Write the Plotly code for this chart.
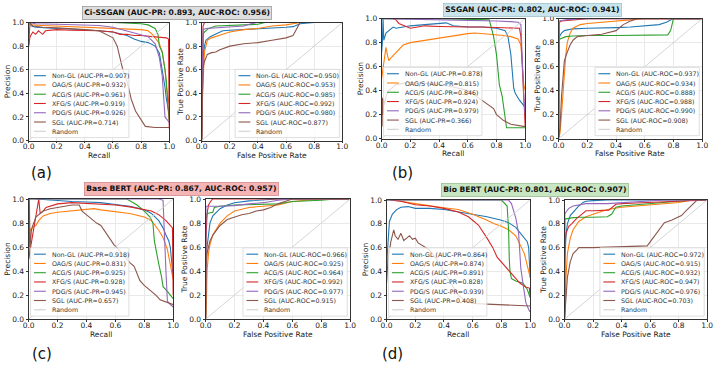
import plotly.graph_objects as go

W, H = 720, 365
FONT = "DejaVu Sans"

SERIES = ["Non-GL", "OAG/S", "ACG/S", "XFG/S", "PDG/S", "SGL"]
COLORS = ["#1f77b4", "#ff7f0e", "#2ca02c", "#d62728", "#9467bd", "#8c564b"]
RANDOM_LABEL = "Random"
MODELS = ["Ci-SSGAN", "SSGAN", "Base BERT", "Bio BERT"]
MODEL_AUC_PR = [0.893, 0.802, 0.867, 0.801]
MODEL_AUC_ROC = [0.956, 0.941, 0.957, 0.907]
PANEL_TAGS = ["(a)", "(b)", "(c)", "(d)"]

A_AUC_PR = [0.907, 0.932, 0.961, 0.919, 0.926, 0.714]
A_AUC_ROC = [0.950, 0.953, 0.985, 0.992, 0.980, 0.877]
B_AUC_PR = [0.878, 0.815, 0.846, 0.924, 0.979, 0.366]
B_AUC_ROC = [0.937, 0.934, 0.888, 0.988, 0.990, 0.908]
C_AUC_PR = [0.918, 0.831, 0.925, 0.928, 0.945, 0.657]
C_AUC_ROC = [0.966, 0.925, 0.964, 0.992, 0.977, 0.915]
D_AUC_PR = [0.864, 0.874, 0.891, 0.828, 0.939, 0.408]
D_AUC_ROC = [0.972, 0.915, 0.932, 0.947, 0.976, 0.703]

TICKS = [0.0, 0.2, 0.4, 0.6, 0.8, 1.0]
TICK_LABELS = ["0.0", "0.2", "0.4", "0.6", "0.8", "1.0"]
RANDOM = [(0.0, 0.0), (1.0, 1.0)]

# ---------- (a) Ci-SSGAN : precision-recall (recall, precision) ----------
A_PR_NONGL = [(0, 1.0), (0.02, 0.97), (0.05, 0.96), (0.1, 0.955), (0.2, 0.95), (0.3, 0.945), (0.4, 0.94), (0.5, 0.93), (0.6, 0.92), (0.7, 0.89), (0.75, 0.86), (0.8, 0.84), (0.85, 0.83), (0.9, 0.8), (0.93, 0.74), (0.95, 0.6), (0.96, 0.5), (0.97, 0.45), (0.98, 0.35), (0.99, 0.28), (1.0, 0.22)]
A_PR_OAG = [(0, 1.0), (0.02, 0.98), (0.1, 0.975), (0.2, 0.97), (0.3, 0.97), (0.4, 0.965), (0.5, 0.96), (0.6, 0.955), (0.7, 0.95), (0.8, 0.94), (0.85, 0.93), (0.88, 0.9), (0.9, 0.87), (0.93, 0.82), (0.95, 0.75), (0.97, 0.6), (0.98, 0.45), (0.99, 0.38), (1.0, 0.3)]
A_PR_ACG = [(0, 1.0), (0.6, 1.0), (0.8, 0.99), (0.85, 0.98), (0.9, 0.95), (0.92, 0.9), (0.93, 0.8), (0.95, 0.75), (0.97, 0.6), (0.98, 0.5), (0.99, 0.3), (1.0, 0.16)]
A_PR_XFG = [(0, 0.8), (0.01, 0.88), (0.03, 0.92), (0.05, 0.9), (0.07, 0.93), (0.1, 0.9), (0.12, 0.93), (0.2, 0.94), (0.3, 0.935), (0.4, 0.935), (0.5, 0.93), (0.6, 0.92), (0.65, 0.9), (0.7, 0.9), (0.75, 0.89), (0.8, 0.89), (0.85, 0.885), (0.9, 0.88), (0.95, 0.875), (0.98, 0.87), (0.995, 0.86), (1.0, 0.1)]
A_PR_PDG = [(0, 1.0), (0.05, 0.99), (0.2, 0.985), (0.4, 0.98), (0.5, 0.975), (0.6, 0.96), (0.7, 0.93), (0.8, 0.9), (0.85, 0.88), (0.9, 0.82), (0.93, 0.7), (0.95, 0.55), (0.96, 0.35), (0.97, 0.2), (0.99, 0.17), (1.0, 0.15)]
A_PR_SGL = [(0, 0.8), (0.01, 1.0), (0.03, 0.97), (0.1, 0.96), (0.2, 0.955), (0.3, 0.95), (0.4, 0.94), (0.5, 0.93), (0.55, 0.9), (0.6, 0.87), (0.63, 0.8), (0.65, 0.7), (0.67, 0.6), (0.7, 0.5), (0.73, 0.35), (0.76, 0.25), (0.8, 0.17), (0.83, 0.12), (0.9, 0.11), (0.95, 0.11), (1.0, 0.11)]

# ---------- (a) Ci-SSGAN : ROC (fpr, tpr) ----------
A_ROC_NONGL = [(0, 0), (0.005, 0.5), (0.01, 0.7), (0.02, 0.8), (0.03, 0.85), (0.06, 0.88), (0.1, 0.9), (0.15, 0.93), (0.2, 0.935), (0.3, 0.94), (0.4, 0.95), (0.5, 0.955), (0.6, 0.96), (0.65, 0.965), (0.7, 0.99), (0.8, 1.0), (1, 1)]
A_ROC_OAG = [(0, 0), (0.005, 0.4), (0.02, 0.75), (0.04, 0.85), (0.07, 0.87), (0.1, 0.88), (0.15, 0.9), (0.2, 0.92), (0.3, 0.94), (0.4, 0.95), (0.5, 0.97), (0.6, 0.98), (0.7, 1.0), (1, 1)]
A_ROC_ACG = [(0, 0), (0.005, 0.8), (0.01, 0.9), (0.02, 0.92), (0.05, 0.95), (0.1, 0.97), (0.2, 0.975), (0.3, 0.98), (0.4, 0.985), (0.45, 1.0), (1, 1)]
A_ROC_XFG = [(0, 0), (0.005, 0.9), (0.01, 0.97), (0.02, 1.0), (1, 1)]
A_ROC_PDG = [(0, 0), (0.005, 0.9), (0.01, 0.94), (0.03, 0.95), (0.1, 0.955), (0.2, 0.96), (0.3, 0.97), (0.35, 0.99), (0.4, 1.0), (1, 1)]
A_ROC_SGL = [(0, 0), (0.005, 0.45), (0.01, 0.62), (0.02, 0.67), (0.04, 0.73), (0.07, 0.745), (0.1, 0.75), (0.13, 0.77), (0.2, 0.8), (0.3, 0.82), (0.4, 0.83), (0.5, 0.85), (0.55, 0.86), (0.6, 0.87), (0.65, 0.89), (0.7, 1.0), (1, 1)]

# ---------- (b) SSGAN : precision-recall ----------
B_PR_NONGL = [(0, 0.72), (0.005, 0.8), (0.01, 1.0), (0.015, 0.82), (0.03, 0.88), (0.05, 0.9), (0.08, 0.93), (0.1, 0.92), (0.2, 0.94), (0.3, 0.95), (0.4, 0.96), (0.45, 0.965), (0.5, 0.94), (0.6, 0.93), (0.7, 0.93), (0.8, 0.92), (0.86, 0.9), (0.88, 0.85), (0.9, 0.7), (0.91, 0.55), (0.92, 0.42), (0.93, 0.38), (0.96, 0.32), (1.0, 0.26)]
B_PR_OAG = [(0, 0.5), (0.01, 0.6), (0.02, 0.7), (0.03, 0.76), (0.04, 0.7), (0.05, 0.65), (0.07, 0.68), (0.1, 0.72), (0.15, 0.78), (0.2, 0.8), (0.3, 0.82), (0.4, 0.84), (0.5, 0.86), (0.6, 0.875), (0.65, 0.88), (0.7, 0.875), (0.8, 0.87), (0.85, 0.86), (0.9, 0.85), (0.95, 0.83), (0.97, 0.78), (0.98, 0.6), (0.99, 0.45), (1.0, 0.4)]
B_PR_ACG = [(0, 1.0), (0.4, 1.0), (0.75, 0.99), (0.76, 0.95), (0.78, 0.85), (0.8, 0.7), (0.81, 0.6), (0.82, 0.45), (0.84, 0.35), (0.85, 0.25), (0.86, 0.15), (0.87, 0.09), (1.0, 0.09)]
B_PR_XFG = [(0.08, 1.0), (0.1, 0.99), (0.12, 0.96), (0.14, 0.95), (0.17, 0.93), (0.2, 0.92), (0.25, 0.93), (0.3, 0.94), (0.4, 0.935), (0.5, 0.93), (0.6, 0.93), (0.7, 0.93), (0.8, 0.925), (0.9, 0.92), (0.96, 0.92), (0.97, 0.85), (0.98, 0.6), (0.985, 0.42), (0.99, 0.35), (1.0, 0.1)]
B_PR_PDG = [(0, 1.0), (0.5, 0.99), (0.8, 0.98), (0.9, 0.975), (0.95, 0.97), (0.97, 0.95), (0.98, 0.6), (0.99, 0.35), (1.0, 0.2)]
B_PR_SGL = [(0, 0.3), (0.003, 0.1), (0.006, 0.34), (0.01, 0.2), (0.015, 0.33), (0.02, 0.28), (0.03, 0.35), (0.05, 0.4), (0.1, 0.45), (0.2, 0.47), (0.3, 0.46), (0.4, 0.45), (0.5, 0.43), (0.6, 0.4), (0.65, 0.36), (0.7, 0.32), (0.75, 0.28), (0.78, 0.25), (0.8, 0.2), (0.85, 0.15), (0.9, 0.12), (0.95, 0.11), (1.0, 0.1)]

# ---------- (b) SSGAN : ROC ----------
B_ROC_NONGL = [(0, 0), (0.003, 0.84), (0.01, 0.86), (0.02, 0.88), (0.04, 0.9), (0.07, 0.91), (0.1, 0.915), (0.2, 0.92), (0.3, 0.92), (0.4, 0.925), (0.5, 0.93), (0.6, 0.94), (0.7, 0.95), (0.75, 0.97), (0.8, 1.0), (1, 1)]
B_ROC_OAG = [(0, 0), (0.01, 0.05), (0.02, 0.2), (0.03, 0.4), (0.04, 0.55), (0.05, 0.7), (0.06, 0.8), (0.08, 0.88), (0.1, 0.92), (0.15, 0.95), (0.2, 0.96), (0.3, 0.97), (0.4, 0.98), (0.5, 0.99), (0.6, 1.0), (1, 1)]
B_ROC_ACG = [(0, 0), (0.003, 0.82), (0.01, 0.83), (0.05, 0.85), (0.1, 0.855), (0.2, 0.86), (0.4, 0.86), (0.6, 0.86), (0.76, 0.865), (0.78, 0.9), (0.8, 1.0), (1, 1)]
B_ROC_XFG = [(0, 0), (0.003, 0.6), (0.005, 0.97), (0.02, 0.98), (0.1, 0.99), (0.2, 1.0), (1, 1)]
B_ROC_PDG = [(0, 0), (0.003, 0.8), (0.005, 0.98), (0.05, 0.99), (0.15, 1.0), (1, 1)]
B_ROC_SGL = [(0, 0), (0.01, 0.1), (0.02, 0.35), (0.03, 0.55), (0.04, 0.65), (0.06, 0.72), (0.08, 0.78), (0.1, 0.82), (0.13, 0.85), (0.2, 0.86), (0.3, 0.87), (0.4, 0.9), (0.45, 0.95), (0.5, 0.98), (0.55, 1.0), (1, 1)]

# ---------- (c) Base BERT : precision-recall ----------
C_PR_NONGL = [(0.05, 1.0), (0.1, 0.995), (0.2, 0.985), (0.3, 0.98), (0.4, 0.975), (0.5, 0.97), (0.6, 0.955), (0.7, 0.94), (0.8, 0.91), (0.85, 0.88), (0.9, 0.82), (0.93, 0.76), (0.95, 0.7), (0.97, 0.65), (0.98, 0.6), (0.99, 0.5), (1.0, 0.35)]
C_PR_OAG = [(0, 0.5), (0.005, 0.7), (0.01, 0.75), (0.02, 0.74), (0.03, 0.77), (0.05, 0.78), (0.07, 0.82), (0.1, 0.86), (0.15, 0.88), (0.2, 0.89), (0.3, 0.9), (0.4, 0.915), (0.45, 0.92), (0.5, 0.91), (0.6, 0.895), (0.7, 0.88), (0.8, 0.85), (0.85, 0.82), (0.9, 0.74), (0.93, 0.68), (0.96, 0.58), (0.98, 0.45), (1.0, 0.33)]
C_PR_ACG = [(0, 1.0), (0.68, 1.0), (0.75, 0.95), (0.8, 0.9), (0.84, 0.85), (0.86, 0.8), (0.87, 0.65), (0.88, 0.58), (0.9, 0.46), (0.92, 0.35), (0.93, 0.27), (0.96, 0.23), (0.98, 0.2), (1.0, 0.17)]
C_PR_XFG = [(0.0, 0.5), (0.05, 0.88), (0.07, 1.0), (0.08, 0.88), (0.1, 0.9), (0.12, 0.93), (0.2, 0.96), (0.3, 0.97), (0.4, 0.965), (0.5, 0.96), (0.6, 0.95), (0.7, 0.935), (0.8, 0.91), (0.85, 0.9), (0.9, 0.87), (0.95, 0.82), (0.98, 0.78), (0.995, 0.76), (1.0, 0.2)]
C_PR_PDG = [(0, 1.0), (0.9, 1.0), (0.93, 0.99), (0.935, 0.8), (0.95, 0.4), (0.96, 0.15), (0.98, 0.12), (1.0, 0.1)]
C_PR_SGL = [(0, 0.5), (0.005, 1.0), (0.01, 0.6), (0.02, 0.75), (0.05, 0.85), (0.1, 0.9), (0.15, 0.92), (0.2, 0.93), (0.3, 0.95), (0.35, 0.95), (0.37, 0.9), (0.42, 0.85), (0.47, 0.8), (0.5, 0.78), (0.53, 0.73), (0.56, 0.68), (0.59, 0.62), (0.63, 0.57), (0.67, 0.51), (0.7, 0.47), (0.73, 0.44), (0.75, 0.38), (0.77, 0.32), (0.8, 0.28), (0.84, 0.24), (0.88, 0.2), (0.91, 0.16), (0.95, 0.14), (1.0, 0.12)]

# ---------- (c) Base BERT : ROC ----------
C_ROC_NONGL = [(0, 0), (0.002, 0.45), (0.01, 0.6), (0.02, 0.72), (0.03, 0.8), (0.05, 0.86), (0.08, 0.9), (0.1, 0.92), (0.15, 0.95), (0.2, 0.97), (0.3, 0.985), (0.4, 0.99), (0.5, 1.0), (1, 1)]
C_ROC_OAG = [(0, 0), (0.005, 0.1), (0.01, 0.4), (0.02, 0.55), (0.03, 0.62), (0.05, 0.7), (0.08, 0.76), (0.1, 0.8), (0.15, 0.86), (0.2, 0.9), (0.3, 0.93), (0.4, 0.94), (0.5, 0.95), (0.6, 0.98), (0.7, 0.99), (0.8, 1.0), (1, 1)]
C_ROC_ACG = [(0, 0), (0.002, 0.8), (0.01, 0.88), (0.05, 0.89), (0.06, 0.93), (0.1, 0.94), (0.2, 0.95), (0.3, 0.955), (0.4, 0.955), (0.5, 0.96), (0.55, 0.97), (0.6, 0.98), (0.8, 0.99), (0.9, 1.0), (1, 1)]
C_ROC_XFG = [(0, 0), (0.002, 0.65), (0.01, 0.88), (0.02, 0.95), (0.04, 0.99), (0.05, 1.0), (1, 1)]
C_ROC_PDG = [(0, 0), (0.002, 0.94), (0.1, 0.94), (0.2, 0.945), (0.3, 0.96), (0.4, 0.97), (0.5, 0.99), (0.6, 1.0), (1, 1)]
C_ROC_SGL = [(0, 0), (0.002, 0.42), (0.01, 0.55), (0.03, 0.65), (0.05, 0.7), (0.08, 0.75), (0.1, 0.78), (0.15, 0.83), (0.2, 0.85), (0.25, 0.87), (0.3, 0.88), (0.35, 0.9), (0.4, 0.91), (0.45, 0.93), (0.5, 0.96), (0.55, 0.98), (0.6, 1.0), (1, 1)]

# ---------- (d) Bio BERT : precision-recall ----------
D_PR_NONGL = [(0, 0.45), (0.01, 0.7), (0.02, 0.82), (0.04, 0.88), (0.07, 0.92), (0.1, 0.94), (0.15, 0.945), (0.2, 0.93), (0.3, 0.93), (0.4, 0.92), (0.5, 0.9), (0.6, 0.88), (0.7, 0.86), (0.8, 0.83), (0.85, 0.81), (0.9, 0.77), (0.95, 0.7), (0.98, 0.65), (0.99, 0.6), (1.0, 0.35)]
D_PR_OAG = [(0.02, 1.0), (0.1, 0.99), (0.2, 0.97), (0.3, 0.95), (0.4, 0.935), (0.5, 0.92), (0.6, 0.88), (0.7, 0.83), (0.75, 0.8), (0.8, 0.78), (0.85, 0.75), (0.9, 0.7), (0.93, 0.63), (0.96, 0.55), (0.98, 0.45), (1.0, 0.35)]
D_PR_ACG = [(0, 1.0), (0.6, 1.0), (0.8, 1.0), (0.84, 0.95), (0.85, 0.75), (0.855, 0.5), (0.86, 0.4), (0.87, 0.34), (0.9, 0.32), (0.95, 0.3), (0.98, 0.25), (1.0, 0.18)]
D_PR_XFG = [(0.03, 1.0), (0.1, 0.99), (0.2, 0.96), (0.3, 0.95), (0.4, 0.93), (0.5, 0.9), (0.57, 0.86), (0.64, 0.79), (0.7, 0.68), (0.74, 0.6), (0.77, 0.52), (0.82, 0.45), (0.86, 0.39), (0.89, 0.35), (0.93, 0.3), (0.97, 0.27), (0.995, 0.26), (1.0, 0.19)]
D_PR_PDG = [(0, 1.0), (0.85, 1.0), (0.87, 0.97), (0.9, 0.85), (0.92, 0.72), (0.93, 0.55), (0.935, 0.43), (0.95, 0.3), (0.96, 0.22), (0.97, 0.14), (0.99, 0.08), (1.0, 0.06)]
D_PR_SGL = [(0, 0.3), (0.01, 0.5), (0.03, 0.65), (0.05, 0.75), (0.06, 0.7), (0.08, 0.67), (0.1, 0.72), (0.12, 0.66), (0.14, 0.68), (0.16, 0.7), (0.18, 0.67), (0.2, 0.68), (0.22, 0.64), (0.25, 0.62), (0.28, 0.6), (0.3, 0.58), (0.35, 0.5), (0.4, 0.4), (0.45, 0.3), (0.5, 0.2), (0.55, 0.15), (0.6, 0.13), (0.7, 0.125), (0.8, 0.12), (0.9, 0.115), (1.0, 0.11)]

# ---------- (d) Bio BERT : ROC ----------
D_ROC_NONGL = [(0, 0), (0.002, 0.5), (0.01, 0.7), (0.02, 0.8), (0.04, 0.87), (0.06, 0.9), (0.08, 0.93), (0.1, 0.95), (0.13, 0.98), (0.15, 0.99), (0.2, 0.995), (0.3, 1.0), (1, 1)]
D_ROC_OAG = [(0, 0), (0.005, 0.1), (0.01, 0.35), (0.02, 0.55), (0.04, 0.68), (0.06, 0.75), (0.1, 0.82), (0.15, 0.86), (0.2, 0.88), (0.25, 0.9), (0.3, 0.92), (0.4, 0.94), (0.5, 0.95), (0.6, 0.96), (0.7, 0.97), (0.8, 0.98), (0.9, 1.0), (1, 1)]
D_ROC_ACG = [(0, 0), (0.002, 0.84), (0.05, 0.85), (0.1, 0.855), (0.2, 0.855), (0.3, 0.86), (0.33, 0.88), (0.36, 0.94), (0.4, 0.95), (0.5, 0.96), (0.6, 0.97), (0.7, 0.98), (0.8, 0.99), (0.9, 1.0), (1, 1)]
D_ROC_XFG = [(0, 0), (0.002, 0.6), (0.01, 0.72), (0.03, 0.78), (0.05, 0.8), (0.08, 0.84), (0.12, 0.88), (0.15, 0.91), (0.2, 0.91), (0.25, 0.91), (0.31, 0.915), (0.36, 0.965), (0.4, 0.97), (0.5, 0.975), (0.6, 0.98), (0.7, 0.985), (0.8, 0.99), (0.9, 1.0), (1, 1)]
D_ROC_PDG = [(0, 0), (0.002, 0.88), (0.01, 0.9), (0.03, 0.93), (0.06, 0.95), (0.1, 0.96), (0.15, 0.97), (0.3, 0.97), (0.5, 0.985), (0.6, 0.99), (0.7, 1.0), (1, 1)]
D_ROC_SGL = [(0, 0), (0.01, 0.2), (0.02, 0.35), (0.04, 0.48), (0.06, 0.55), (0.085, 0.58), (0.1, 0.6), (0.2, 0.6), (0.3, 0.605), (0.45, 0.61), (0.58, 0.615), (0.62, 0.68), (0.65, 0.73), (0.7, 0.81), (0.75, 0.83), (0.82, 0.87), (0.86, 0.92), (0.91, 0.98), (0.93, 1.0), (1, 1)]

A_PR = [A_PR_NONGL, A_PR_OAG, A_PR_ACG, A_PR_XFG, A_PR_PDG, A_PR_SGL]
A_ROC = [A_ROC_NONGL, A_ROC_OAG, A_ROC_ACG, A_ROC_XFG, A_ROC_PDG, A_ROC_SGL]
B_PR = [B_PR_NONGL, B_PR_OAG, B_PR_ACG, B_PR_XFG, B_PR_PDG, B_PR_SGL]
B_ROC = [B_ROC_NONGL, B_ROC_OAG, B_ROC_ACG, B_ROC_XFG, B_ROC_PDG, B_ROC_SGL]
C_PR = [C_PR_NONGL, C_PR_OAG, C_PR_ACG, C_PR_XFG, C_PR_PDG, C_PR_SGL]
C_ROC = [C_ROC_NONGL, C_ROC_OAG, C_ROC_ACG, C_ROC_XFG, C_ROC_PDG, C_ROC_SGL]
D_PR = [D_PR_NONGL, D_PR_OAG, D_PR_ACG, D_PR_XFG, D_PR_PDG, D_PR_SGL]
D_ROC = [D_ROC_NONGL, D_ROC_OAG, D_ROC_ACG, D_ROC_XFG, D_ROC_PDG, D_ROC_SGL]

# ---------------- layout (pixel geometry: left, right, top, bottom) ----------------
PANELS = [
    dict(kind="pr", curves=A_PR, auc=A_AUC_PR, box=(23, 166, 19, 140)),
    dict(kind="roc", curves=A_ROC, auc=A_AUC_ROC, box=(199, 342, 19, 140)),
    dict(kind="pr", curves=B_PR, auc=B_AUC_PR, box=(382, 528, 15, 138)),
    dict(kind="roc", curves=B_ROC, auc=B_AUC_ROC, box=(562, 708, 15, 138)),
    dict(kind="pr", curves=C_PR, auc=C_AUC_PR, box=(23, 170, 200, 323)),
    dict(kind="roc", curves=C_ROC, auc=C_AUC_ROC, box=(203, 350, 200, 323)),
    dict(kind="pr", curves=D_PR, auc=D_AUC_PR, box=(387, 533, 201, 323)),
    dict(kind="roc", curves=D_ROC, auc=D_AUC_ROC, box=(568, 713, 201, 323)),
]
TITLE_POS = [(174, 9.5), (535, 6.5), (178.5, 190), (537.5, 191)]
TITLE_BG = ["#dedede", "#c9e4ec", "#f5b5b5", "#c8e6c1"]
TITLE_BORDER = ["#9a9a9a", "#9fc3cc", "#d08c8c", "#98bf90"]
TAG_POS = [(23, 173), (391, 173), (24, 359), (380, 359)]
FS = 7.5


def px(x):
    return x / W


def py(y):
    return 1 - y / H


fig = go.Figure()
layout = dict(width=W, height=H, margin=dict(l=0, r=0, t=0, b=0),
              paper_bgcolor="white", plot_bgcolor="white", showlegend=False,
              font=dict(family=FONT, size=FS, color="#222"))
shapes, annos = [], []

for i, p in enumerate(PANELS):
    n = i + 1
    xa = "x" if n == 1 else f"x{n}"
    ya = "y" if n == 1 else f"y{n}"
    l, r, t, b = p["box"]
    is_pr = p["kind"] == "pr"
    for s, pts in enumerate(p["curves"]):
        fig.add_trace(go.Scatter(x=[q[0] for q in pts], y=[q[1] for q in pts], mode="lines",
                                 line=dict(color=COLORS[s], width=1.1), xaxis=xa, yaxis=ya,
                                 name=SERIES[s], hoverinfo="skip"))
    fig.add_trace(go.Scatter(x=[q[0] for q in RANDOM], y=[q[1] for q in RANDOM], mode="lines",
                             line=dict(color="#d0d0d0", width=0.9), xaxis=xa, yaxis=ya,
                             name=RANDOM_LABEL, hoverinfo="skip"))
    common = dict(range=[0, 1], tickvals=TICKS, ticktext=TICK_LABELS, showgrid=True,
                  gridcolor="#e9e9e9", gridwidth=0.7, zeroline=False, showline=True,
                  mirror=True, linecolor="#333", linewidth=0.9, ticks="outside",
                  ticklen=2, tickwidth=0.8, tickcolor="#333",
                  tickfont=dict(family=FONT, size=FS, color="#222"))
    layout["xaxis" if n == 1 else f"xaxis{n}"] = dict(
        common, domain=[px(l), px(r)], anchor=ya, ticklabelstandoff=-3)
    layout["yaxis" if n == 1 else f"yaxis{n}"] = dict(
        common, domain=[py(b), py(t)], anchor=xa,
        title=dict(text="Precision" if is_pr else "True Positive Rate",
                   font=dict(family=FONT, size=FS, color="#222"), standoff=0))
    # x axis title placed just under the tick labels
    annos.append(dict(xref="paper", yref="paper", x=px((l + r) / 2), y=py(b + 15.5),
                      text="Recall" if is_pr else "False Positive Rate", showarrow=False,
                      xanchor="center", yanchor="middle",
                      font=dict(family=FONT, size=FS, color="#222")))

    # legend box drawn inside the axes
    lw = 100 if is_pr else 106
    step = 9.5
    lh = 6 * step + 13
    if is_pr:
        lx0 = l + 2
    else:
        lx0 = r - 3 - lw
    ly1 = b - 3
    ly0 = ly1 - lh
    shapes.append(dict(type="rect", xref="paper", yref="paper", x0=px(lx0), x1=px(lx0 + lw),
                       y0=py(ly1), y1=py(ly0), fillcolor="rgba(255,255,255,0.8)",
                       line=dict(color="#d5d5d5", width=0.8), layer="above"))
    labels = [f"{SERIES[s]} (AUC-{'PR' if is_pr else 'ROC'}={p['auc'][s]:.3f})" for s in range(6)] + [RANDOM_LABEL]
    cols = COLORS + ["#d0d0d0"]
    for k, txt in enumerate(labels):
        yy = ly0 + 6.5 + k * step
        shapes.append(dict(type="line", xref="paper", yref="paper", x0=px(lx0 + 3.5), x1=px(lx0 + 15.5),
                           y0=py(yy), y1=py(yy), line=dict(color=cols[k], width=1.1), layer="above"))
        annos.append(dict(xref="paper", yref="paper", x=px(lx0 + 19.5), y=py(yy), text=txt,
                          showarrow=False, xanchor="left", yanchor="middle",
                          font=dict(family=FONT, size=6.3, color="#333")))

for m in range(4):
    cx, cy = TITLE_POS[m]
    annos.append(dict(xref="paper", yref="paper", x=px(cx), y=py(cy),
                      text=f"<b>{MODELS[m]} (AUC-PR: {MODEL_AUC_PR[m]:.3f}, AUC-ROC: {MODEL_AUC_ROC[m]:.3f})</b>",
                      showarrow=False, xanchor="center", yanchor="middle",
                      font=dict(family=FONT, size=7.6, color="#111"),
                      bgcolor=TITLE_BG[m], bordercolor=TITLE_BORDER[m], borderwidth=0.8, borderpad=1.5))
    tx, ty = TAG_POS[m]
    annos.append(dict(xref="paper", yref="paper", x=px(tx), y=py(ty), text=PANEL_TAGS[m],
                      showarrow=False, xanchor="left", yanchor="middle",
                      font=dict(family=FONT, size=15, color="#111")))

layout["shapes"] = shapes
layout["annotations"] = annos
fig.update_layout(**layout)
fig.write_html("out.html")
